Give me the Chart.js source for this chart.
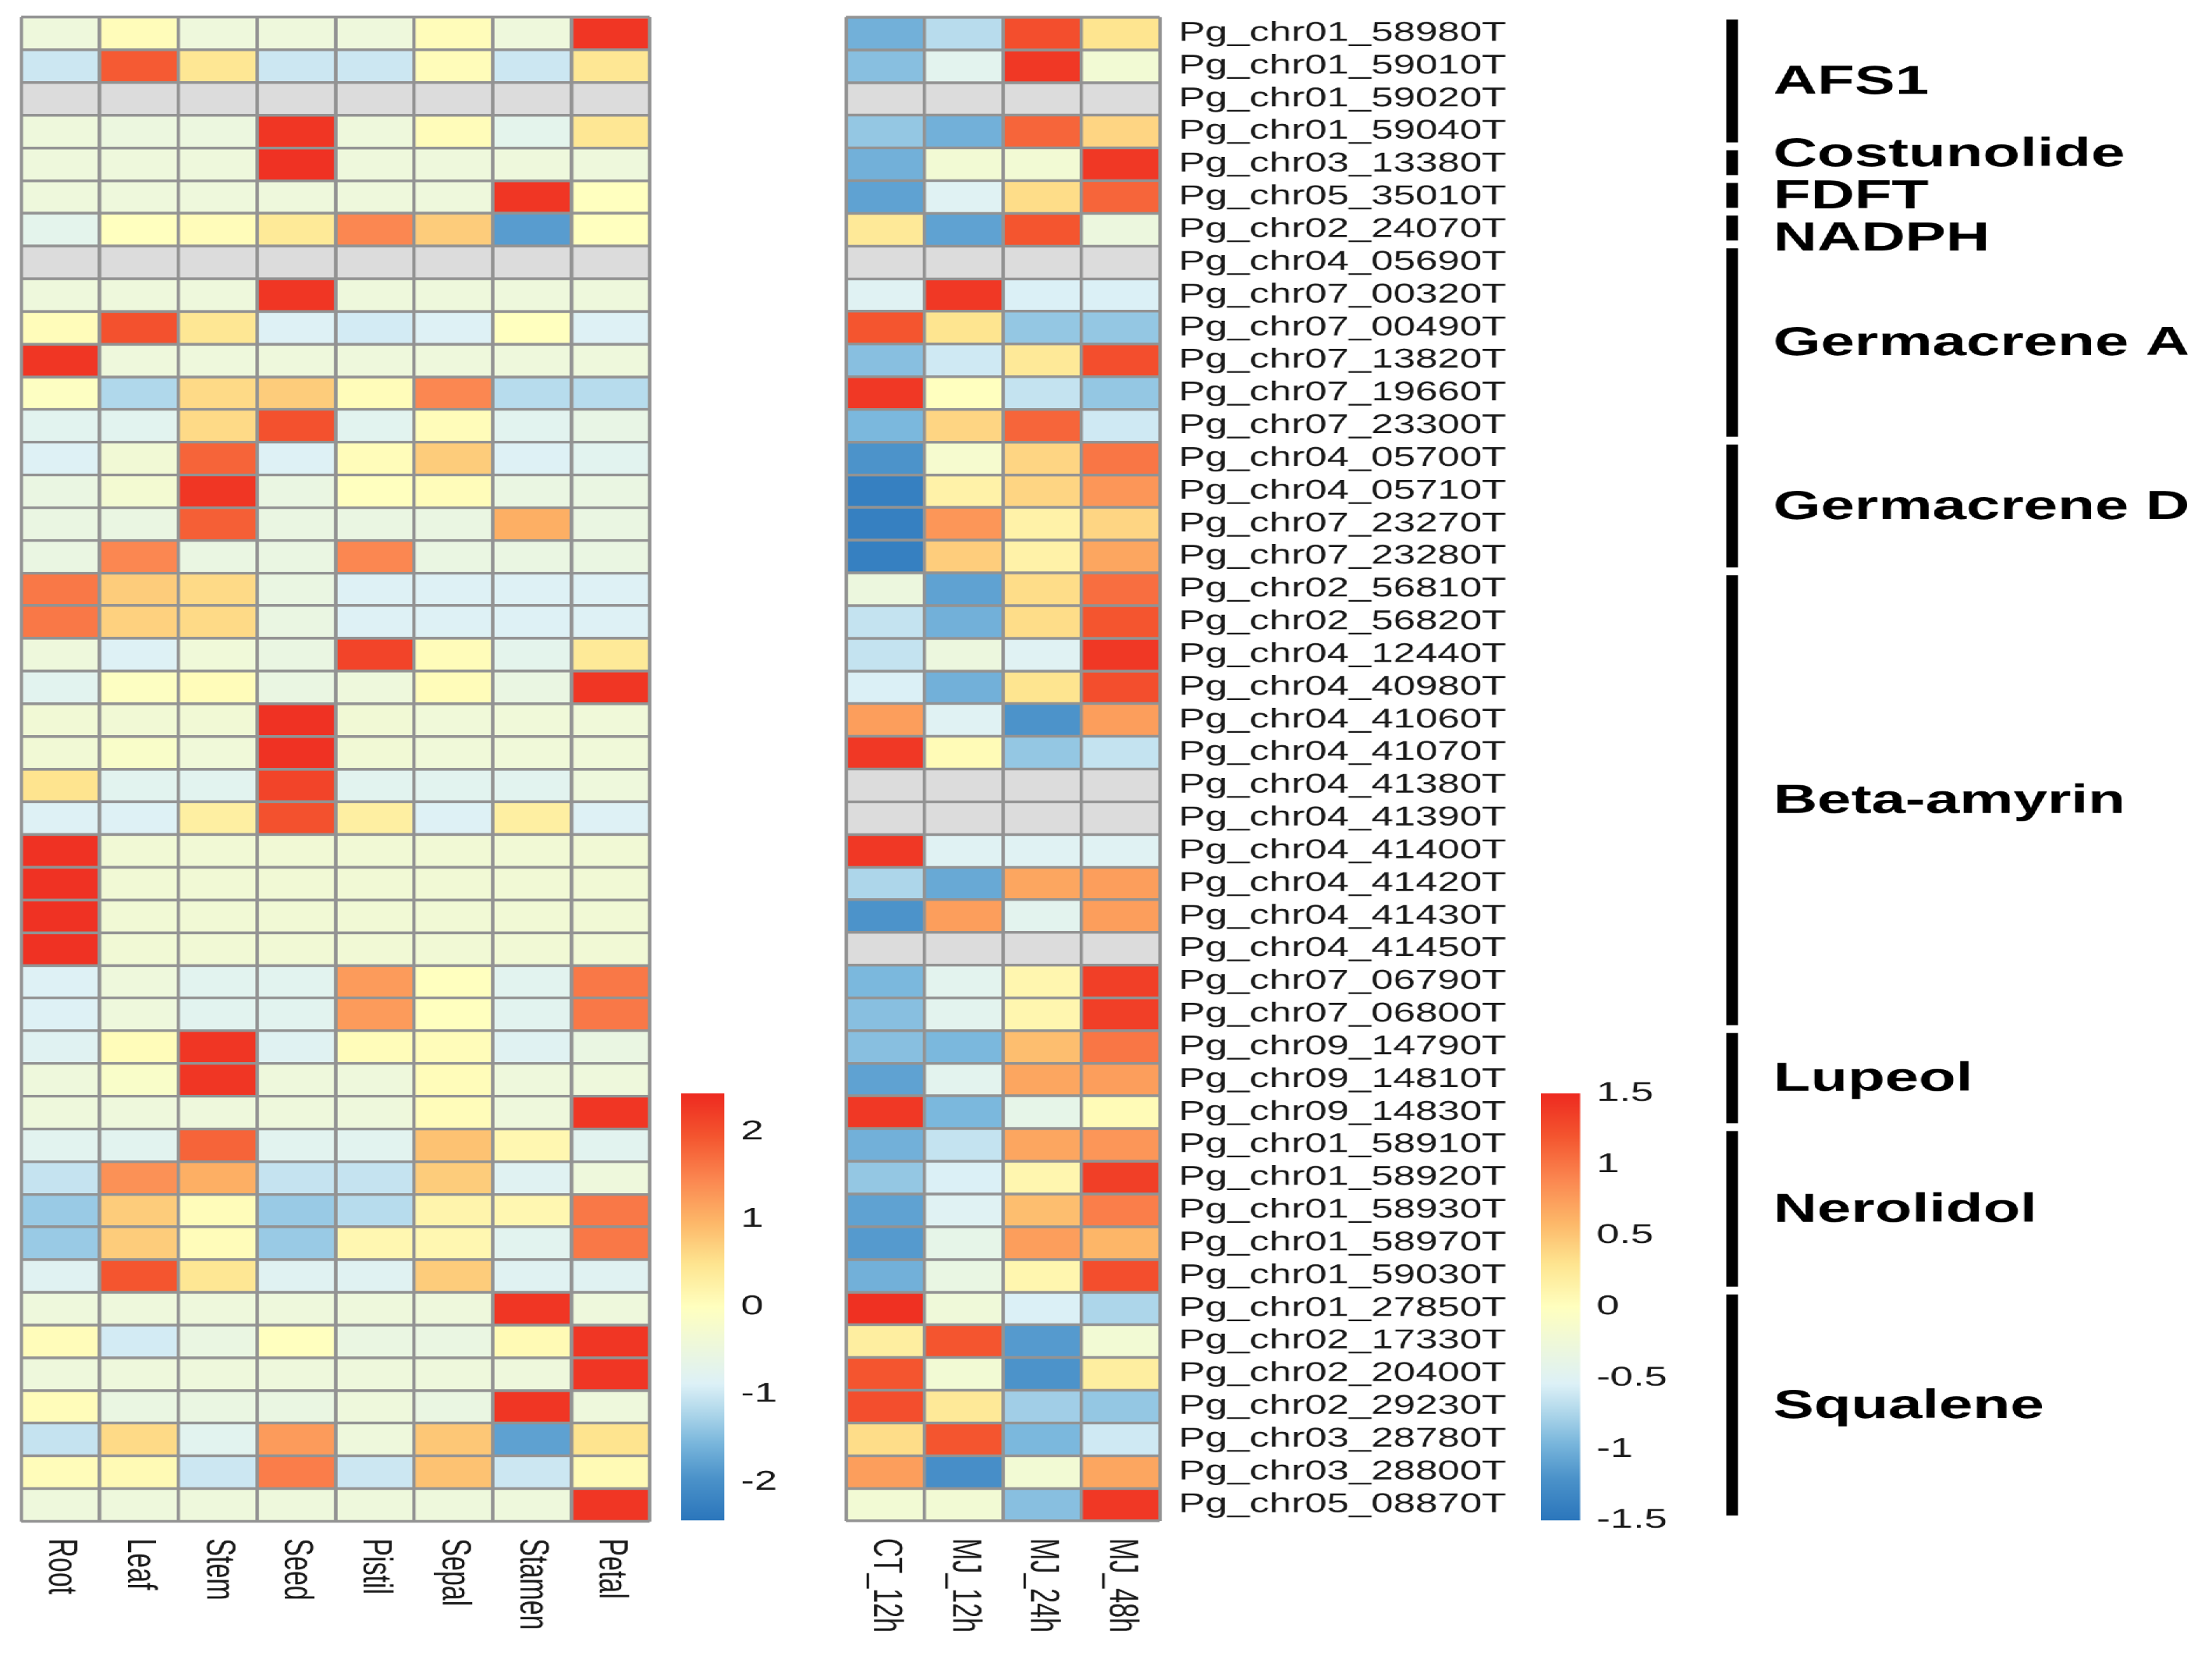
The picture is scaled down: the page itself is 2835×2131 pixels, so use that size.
<!DOCTYPE html>
<html>
<head>
<meta charset="utf-8">
<title>Terpenoid gene heatmap</title>
<script src="https://cdn.jsdelivr.net/npm/chart.js@4.4.1/dist/chart.umd.min.js"></script>
<style>
    body { margin: 0; background: #ffffff; overflow: hidden; }
    /* the source figure is stretched sideways, so the whole stage is too */
    #stage { position: absolute; left: 0; top: 0; width: 1890px; height: 2131px; transform: scaleX(1.5); transform-origin: 0 0; }
    canvas { position: absolute; }
</style>
</head>
<body>
<div id="stage">
    <canvas id="tissueChart" width="549" height="2115" style="left:12px;top:16px;width:549px;height:2115px"></canvas>
    <canvas id="treatChart" width="1173" height="2154" style="left:717px;top:-23px;width:1173px;height:2154px"></canvas>
    <canvas id="tissueScale" width="112" height="617" style="left:582px;top:1366px;width:112px;height:617px"></canvas>
    <canvas id="treatScale" width="123" height="617" style="left:1317px;top:1366px;width:123px;height:617px"></canvas>
</div>
<script>
var tissues = ['Root', 'Leaf', 'Stem', 'Seed', 'Pistil', 'Sepal', 'Stamen', 'Petal'];
var treatments = ['CT_12h', 'MJ_12h', 'MJ_24h', 'MJ_48h'];

var genes = [
    'Pg_chr01_58980T', 'Pg_chr01_59010T', 'Pg_chr01_59020T', 'Pg_chr01_59040T',
    'Pg_chr03_13380T', 'Pg_chr05_35010T', 'Pg_chr02_24070T', 'Pg_chr04_05690T',
    'Pg_chr07_00320T', 'Pg_chr07_00490T', 'Pg_chr07_13820T', 'Pg_chr07_19660T',
    'Pg_chr07_23300T', 'Pg_chr04_05700T', 'Pg_chr04_05710T', 'Pg_chr07_23270T',
    'Pg_chr07_23280T', 'Pg_chr02_56810T', 'Pg_chr02_56820T', 'Pg_chr04_12440T',
    'Pg_chr04_40980T', 'Pg_chr04_41060T', 'Pg_chr04_41070T', 'Pg_chr04_41380T',
    'Pg_chr04_41390T', 'Pg_chr04_41400T', 'Pg_chr04_41420T', 'Pg_chr04_41430T',
    'Pg_chr04_41450T', 'Pg_chr07_06790T', 'Pg_chr07_06800T', 'Pg_chr09_14790T',
    'Pg_chr09_14810T', 'Pg_chr09_14830T', 'Pg_chr01_58910T', 'Pg_chr01_58920T',
    'Pg_chr01_58930T', 'Pg_chr01_58970T', 'Pg_chr01_59030T', 'Pg_chr01_27850T',
    'Pg_chr02_17330T', 'Pg_chr02_20400T', 'Pg_chr02_29230T', 'Pg_chr03_28780T',
    'Pg_chr03_28800T', 'Pg_chr05_08870T'
];

var NA = null;
// z-scores per tissue (Root .. Petal), one row per gene
var tissueValues = [
    [-0.45, 0.05, -0.45, -0.45, -0.45, 0.05, -0.45, 2.3],
    [-1.0, 1.9, 0.45, -1.0, -1.0, 0.05, -1.0, 0.45],
    [NA, NA, NA, NA, NA, NA, NA, NA],
    [-0.45, -0.5, -0.5, 2.3, -0.45, 0.05, -0.7, 0.45],
    [-0.45, -0.45, -0.45, 2.35, -0.45, -0.45, -0.45, -0.45],
    [-0.45, -0.45, -0.45, -0.45, -0.45, -0.45, 2.3, 0.0],
    [-0.7, 0.0, 0.05, 0.4, 1.45, 0.75, -1.85, 0.0],
    [NA, NA, NA, NA, NA, NA, NA, NA],
    [-0.45, -0.45, -0.45, 2.3, -0.45, -0.45, -0.45, -0.45],
    [0.05, 2.0, 0.45, -0.85, -0.95, -0.85, 0.0, -0.85],
    [2.3, -0.45, -0.45, -0.45, -0.45, -0.45, -0.45, -0.45],
    [-0.05, -1.2, 0.6, 0.75, 0.05, 1.45, -1.15, -1.15],
    [-0.75, -0.75, 0.6, 2.0, -0.75, 0.05, -0.75, -0.6],
    [-0.85, -0.35, 1.8, -0.85, 0.05, 0.75, -0.85, -0.75],
    [-0.55, -0.3, 2.3, -0.55, 0.0, 0.05, -0.55, -0.55],
    [-0.55, -0.55, 1.85, -0.55, -0.55, -0.55, 1.05, -0.55],
    [-0.55, 1.45, -0.55, -0.55, 1.45, -0.55, -0.55, -0.55],
    [1.6, 0.75, 0.6, -0.55, -0.85, -0.85, -0.85, -0.85],
    [1.6, 0.7, 0.6, -0.55, -0.85, -0.85, -0.85, -0.85],
    [-0.45, -0.85, -0.4, -0.55, 2.15, 0.05, -0.7, 0.4],
    [-0.75, -0.05, 0.05, -0.55, -0.45, 0.05, -0.55, 2.3],
    [-0.35, -0.35, -0.35, 2.35, -0.35, -0.4, -0.4, -0.4],
    [-0.35, -0.15, -0.4, 2.35, -0.35, -0.4, -0.4, -0.4],
    [0.5, -0.75, -0.75, 2.15, -0.75, -0.75, -0.75, -0.45],
    [-0.85, -0.85, 0.3, 2.0, 0.3, -0.85, 0.3, -0.85],
    [2.35, -0.35, -0.35, -0.35, -0.35, -0.35, -0.35, -0.35],
    [2.35, -0.35, -0.35, -0.35, -0.35, -0.35, -0.35, -0.35],
    [2.35, -0.35, -0.35, -0.35, -0.35, -0.35, -0.35, -0.35],
    [2.35, -0.35, -0.35, -0.35, -0.35, -0.35, -0.35, -0.35],
    [-0.85, -0.45, -0.75, -0.75, 1.25, 0.0, -0.75, 1.6],
    [-0.85, -0.45, -0.75, -0.75, 1.25, 0.0, -0.75, 1.6],
    [-0.8, 0.05, 2.3, -0.8, 0.05, 0.05, -0.8, -0.55],
    [-0.45, -0.15, 2.3, -0.45, -0.45, 0.05, -0.45, -0.45],
    [-0.45, -0.45, -0.45, -0.45, -0.45, 0.05, -0.45, 2.3],
    [-0.75, -0.75, 1.8, -0.75, -0.75, 0.85, 0.15, -0.75],
    [-1.05, 1.35, 1.05, -1.05, -1.05, 0.75, -0.8, -0.45],
    [-1.35, 0.75, 0.05, -1.35, -1.15, 0.2, 0.15, 1.6],
    [-1.35, 0.75, 0.05, -1.35, 0.15, 0.15, -0.75, 1.6],
    [-0.8, 1.95, 0.45, -0.8, -0.8, 0.75, -0.8, -0.8],
    [-0.45, -0.45, -0.45, -0.45, -0.45, -0.45, 2.3, -0.45],
    [0.05, -0.95, -0.55, 0.0, -0.55, -0.55, 0.1, 2.3],
    [-0.45, -0.45, -0.45, -0.45, -0.45, -0.45, -0.45, 2.3],
    [0.05, -0.55, -0.55, -0.55, -0.45, -0.55, 2.3, -0.45],
    [-1.05, 0.6, -0.75, 1.25, -0.45, 0.8, -1.8, 0.5],
    [0.05, 0.1, -1.0, 1.55, -1.0, 0.85, -1.0, 0.1],
    [-0.45, -0.45, -0.45, -0.45, -0.45, -0.45, -0.45, 2.3]
];

// z-scores per MeJA time point (CT_12h .. MJ_48h)
var treatmentValues = [
    [-1.0, -0.7, 1.25, 0.3],
    [-0.9, -0.45, 1.4, -0.2],
    [NA, NA, NA, NA],
    [-0.85, -1.0, 1.1, 0.4],
    [-1.0, -0.2, -0.2, 1.4],
    [-1.1, -0.5, 0.35, 1.1],
    [0.25, -1.1, 1.2, -0.3],
    [NA, NA, NA, NA],
    [-0.5, 1.4, -0.55, -0.55],
    [1.2, 0.3, -0.85, -0.85],
    [-0.9, -0.6, 0.25, 1.25],
    [1.4, 0.0, -0.65, -0.85],
    [-0.95, 0.4, 1.1, -0.6],
    [-1.2, -0.15, 0.4, 1.0],
    [-1.4, 0.15, 0.4, 0.8],
    [-1.4, 0.8, 0.15, 0.4],
    [-1.4, 0.45, 0.15, 0.7],
    [-0.3, -1.1, 0.35, 1.05],
    [-0.65, -1.0, 0.35, 1.2],
    [-0.65, -0.3, -0.5, 1.4],
    [-0.55, -1.0, 0.3, 1.25],
    [0.75, -0.5, -1.2, 0.75],
    [1.4, 0.05, -0.85, -0.65],
    [NA, NA, NA, NA],
    [NA, NA, NA, NA],
    [1.4, -0.5, -0.5, -0.5],
    [-0.75, -1.05, 0.7, 0.75],
    [-1.2, 0.75, -0.45, 0.75],
    [NA, NA, NA, NA],
    [-0.95, -0.45, 0.1, 1.35],
    [-0.9, -0.45, 0.1, 1.35],
    [-0.9, -0.95, 0.55, 1.0],
    [-1.1, -0.45, 0.7, 0.75],
    [1.4, -0.95, -0.4, 0.05],
    [-1.0, -0.65, 0.7, 0.8],
    [-0.85, -0.55, 0.1, 1.35],
    [-1.1, -0.5, 0.55, 0.95],
    [-1.15, -0.4, 0.75, 0.6],
    [-1.0, -0.35, 0.1, 1.25],
    [1.45, -0.25, -0.55, -0.75],
    [0.2, 1.2, -1.15, -0.2],
    [1.2, -0.2, -1.2, 0.2],
    [1.25, 0.25, -0.8, -0.85],
    [0.35, 1.2, -0.95, -0.6],
    [0.75, -1.25, -0.2, 0.7],
    [-0.2, -0.2, -0.9, 1.4]
];

var groupNames = ['AFS1', 'Costunolide', 'FDFT', 'NADPH', 'Germacrene A', 'Germacrene D',
    'Beta-amyrin', 'Lupeol', 'Nerolidol', 'Squalene'];
var groupSizes = [4, 1, 1, 1, 6, 4, 14, 3, 5, 7];

var tissueRange = [-2.44, 2.44];
var tissueTicks = [-2, -1, 0, 1, 2];
var treatmentRange = [-1.5, 1.5];
var treatmentTicks = [-1.5, -1, -0.5, 0, 0.5, 1, 1.5];

// styling
var fontFamily = '"Liberation Sans", Arial, sans-serif';
var textColor = '#1a1a1a';
var gridColor = '#939393';
var naColor = '#dcdcdc';
var paletteStops = [
    [0.00, '#2b76bc'],
    [0.10, '#4c93ca'],
    [0.18, '#79b6dc'],
    [0.25, '#add6ea'],
    [0.32, '#ddf1f7'],
    [0.50, '#ffffbf'],
    [0.60, '#fee590'],
    [0.70, '#fdb668'],
    [0.80, '#fb8650'],
    [0.90, '#f4552f'],
    [1.00, '#ee2a20']
];

Chart.defaults.font.family = fontFamily;
Chart.defaults.color = textColor;

function hexToRgb(hex) {
    var n = parseInt(hex.slice(1), 16);
    return [(n >> 16) & 255, (n >> 8) & 255, n & 255];
}

function valueColor(v, range) {
    if (v === null) return naColor;
    var f = (v - range[0]) / (range[1] - range[0]);
    f = Math.max(0, Math.min(1, f));
    for (var i = 1; i < paletteStops.length; i++) {
        if (f <= paletteStops[i][0]) {
            var a = paletteStops[i - 1], b = paletteStops[i];
            var t = (f - a[0]) / (b[0] - a[0]);
            var ca = hexToRgb(a[1]), cb = hexToRgb(b[1]);
            var rgb = ca.map(function(c, k) { return Math.round(c + (cb[k] - c) * t); });
            return 'rgb(' + rgb.join(',') + ')';
        }
    }
    return paletteStops[paletteStops.length - 1][1];
}

function buildCells(columns, values) {
    var cells = [];
    values.forEach(function(row, r) {
        row.forEach(function(v, c) {
            cells.push({ x: columns[c], y: [r, r + 1], v: v });
        });
    });
    return cells;
}

// rotated column names under each heatmap
var columnLabels = {
    id: 'columnLabels',
    afterDraw: function(chart) {
        var xs = chart.scales.x;
        var ctx = chart.ctx;
        ctx.save();
        ctx.font = '34px ' + fontFamily;
        ctx.fillStyle = textColor;
        ctx.textAlign = 'left';
        ctx.textBaseline = 'middle';
        xs.getLabels().forEach(function(label, i) {
            ctx.save();
            ctx.translate(xs.getPixelForValue(i), chart.chartArea.bottom + 22);
            ctx.rotate(Math.PI / 2);
            ctx.fillText(label, 0, 0);
            ctx.restore();
        });
        ctx.restore();
    }
};

// black bars + pathway names to the right of the gene labels
var groupBrackets = {
    id: 'groupBrackets',
    afterDraw: function(chart) {
        var ys = chart.scales.y;
        var ctx = chart.ctx;
        var barX = chart.chartArea.right + 484;
        var textX = chart.chartArea.right + 524;
        var minGap = 54;
        var start = 0;
        var spans = [];
        groupNames.forEach(function(name, i) {
            spans.push([ys.getPixelForValue(start), ys.getPixelForValue(start + groupSizes[i])]);
            start += groupSizes[i];
        });
        // spread the name positions so the one-row groups do not collide
        var mids = spans.map(function(s) { return (s[0] + s[1]) / 2; });
        for (var it = 0; it < 30; it++) {
            for (var k = 1; k < mids.length; k++) {
                var d = mids[k] - mids[k - 1];
                if (d < minGap) {
                    mids[k - 1] -= (minGap - d) / 2;
                    mids[k] += (minGap - d) / 2;
                }
            }
        }
        ctx.save();
        ctx.fillStyle = '#000000';
        ctx.font = 'bold 52px ' + fontFamily;
        ctx.textAlign = 'left';
        ctx.textBaseline = 'middle';
        spans.forEach(function(s, i) {
            ctx.fillRect(barX, s[0] + 3, 10, s[1] - s[0] - 10);
            ctx.fillText(groupNames[i], textX, mids[i]);
        });
        ctx.restore();
    }
};

function makeHeatmap(canvasId, columns, values, range, pad, withGenes) {
    var scales = {
        x: {
            type: 'category',
            labels: columns,
            offset: true,
            grid: { offset: true, color: gridColor, lineWidth: 3, drawTicks: false, tickLength: 0, z: 1 },
            border: { display: false },
            ticks: { display: false }
        },
        y: {
            type: 'linear',
            reverse: true,
            min: 0,
            max: genes.length,
            grid: { color: gridColor, lineWidth: 3.5, drawTicks: false, tickLength: 0, z: 1 },
            border: { display: false },
            ticks: { display: false, stepSize: 1, maxTicksLimit: 100 }
        }
    };
    if (withGenes) {
        scales.genes = {
            type: 'category',
            position: 'right',
            labels: genes,
            offset: true,
            grid: { display: false, drawTicks: false, tickLength: 0 },
            border: { display: false },
            ticks: { autoSkip: false, padding: 16, color: textColor, font: { size: 34 } },
            afterFit: function(scale) { scale.width = 330; }
        };
    }
    return new Chart(document.getElementById(canvasId), {
        type: 'bar',
        data: {
            datasets: [{
                data: buildCells(columns, values),
                xAxisID: 'x',
                yAxisID: 'y',
                backgroundColor: function(ctx) { return ctx.raw ? valueColor(ctx.raw.v, range) : naColor; },
                borderWidth: 0,
                barPercentage: 1,
                categoryPercentage: 1
            }]
        },
        options: {
            responsive: false,
            animation: false,
            devicePixelRatio: 1.5,
            layout: { autoPadding: false, padding: pad },
            plugins: { legend: { display: false }, tooltip: { enabled: false } },
            scales: scales
        },
        plugins: withGenes ? [columnLabels, groupBrackets] : [columnLabels]
    });
}

function makeColorbar(canvasId, range, tickValues, axisWidth) {
    return new Chart(document.getElementById(canvasId), {
        type: 'bar',
        data: {
            labels: ['scale'],
            datasets: [{
                data: [range],
                backgroundColor: function(ctx) {
                    var area = ctx.chart.chartArea;
                    if (!area) return '#ffffff';
                    var g = ctx.chart.ctx.createLinearGradient(0, area.bottom, 0, area.top);
                    paletteStops.forEach(function(s) { g.addColorStop(s[0], s[1]); });
                    return g;
                },
                borderWidth: 0,
                barPercentage: 1,
                categoryPercentage: 1
            }]
        },
        options: {
            responsive: false,
            animation: false,
            devicePixelRatio: 1.5,
            layout: { autoPadding: false, padding: { left: 0, right: 0, top: 30, bottom: 30 } },
            plugins: { legend: { display: false }, tooltip: { enabled: false } },
            scales: {
                x: { display: false },
                y: {
                    position: 'right',
                    min: range[0],
                    max: range[1],
                    grid: { display: false, drawTicks: false, tickLength: 0 },
                    border: { display: false },
                    afterBuildTicks: function(scale) {
                        scale.ticks = tickValues.map(function(v) { return { value: v }; });
                    },
                    ticks: {
                        padding: 14,
                        color: textColor,
                        font: { size: 35 },
                        callback: function(v) { return String(v); }
                    },
                    afterFit: function(scale) { scale.width = axisWidth; }
                }
            }
        }
    });
}

makeHeatmap('tissueChart', tissues, tissueValues, tissueRange,
    { left: 6, top: 6, bottom: 182, right: 6 }, false);
makeHeatmap('treatChart', treatments, treatmentValues, treatmentRange,
    { left: 6, top: 45, bottom: 182, right: 569 }, true);
makeColorbar('tissueScale', tissueRange, tissueTicks, 75);
makeColorbar('treatScale', treatmentRange, treatmentTicks, 90);
</script>
</body>
</html>
